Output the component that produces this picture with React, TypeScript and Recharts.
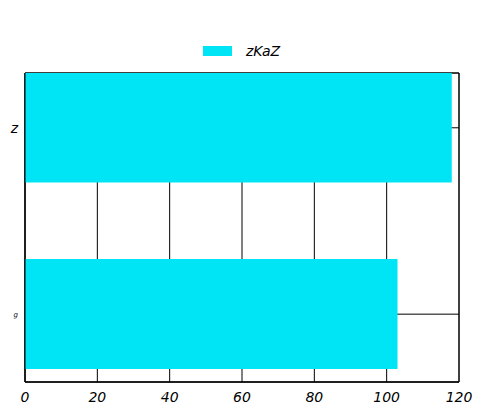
import { Bar, BarChart, CartesianGrid, Legend, ReferenceArea, XAxis, YAxis } from "recharts";

const categories = ["z", "g"];
const values = [118, 103];
const seriesName = "zKaZ";
const xTicks = [0, 20, 40, 60, 80, 100, 120];
const labelSizes = [14, 7];

// in vertical layout the numeric Y axis runs top to bottom
const data = categories.map((name, i) => ({ name, pos: i, value: values[i] }));
const yDomain = [-0.294, 1.364];

const font = "'DejaVu Sans', sans-serif";
const barColor = "#00E5F6";

function LegendBox() {
  return (
    <div style={{ display: "flex", alignItems: "center", justifyContent: "center", fontFamily: font }}>
      <span style={{ display: "inline-block", width: 29, height: 10, background: barColor, marginRight: 14 }} />
      <span style={{ fontStyle: "italic", fontSize: 14, color: "#000" }}>{seriesName}</span>
    </div>
  );
}

function CategoryTick(props: any) {
  const { x, y, payload } = props;
  const i = payload.value as number;
  return (
    <text x={x + 1} y={y} dy="0.35em" textAnchor="end" fontSize={labelSizes[i]} fontStyle="italic" fontFamily={font} fill="#000">
      {categories[i]}
    </text>
  );
}

export default function App() {
  return (
    <div style={{ position: "absolute", left: 0, top: 0, background: "#fff" }}>
      <BarChart width={483} height={414} data={data} layout="vertical" margin={{ top: 57, right: 24, bottom: 0, left: 0 }}>
        <CartesianGrid stroke="#000" strokeWidth={1} />
        <XAxis
          type="number"
          dataKey="value"
          domain={[0, 120]}
          ticks={xTicks}
          height={32}
          tickLine={false}
          axisLine={{ stroke: "#000" }}
          tick={{ fill: "#000", fontSize: 14, fontStyle: "italic", fontFamily: font }}
          tickMargin={4}
        />
        <YAxis
          type="number"
          dataKey="pos"
          domain={yDomain}
          ticks={[0, 1]}
          allowDataOverflow
          width={25}
          tickLine={false}
          axisLine={{ stroke: "#000" }}
          tick={<CategoryTick />}
        />
        <Legend verticalAlign="top" content={<LegendBox />} wrapperStyle={{ top: 43, left: 0, width: 483 }} />
        <Bar dataKey="value" name={seriesName} fill={barColor} barSize={110} isAnimationActive={false} />
        <ReferenceArea x1={0} x2={120} y1={yDomain[0]} y2={yDomain[1]} fill="none" stroke="#000" strokeWidth={1} ifOverflow="visible" />
      </BarChart>
    </div>
  );
}
